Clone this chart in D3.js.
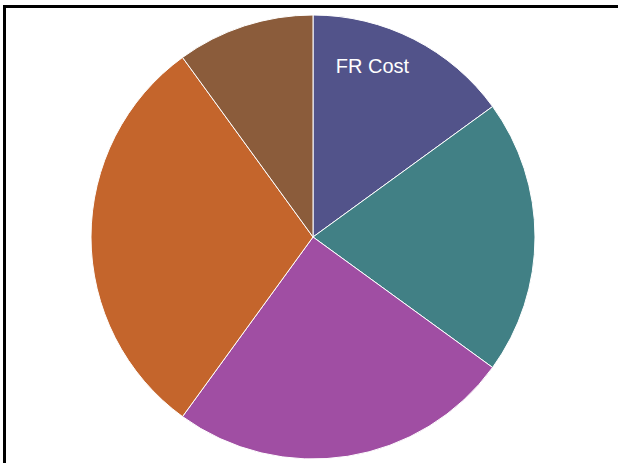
<!DOCTYPE html>
<html>
<head>
<meta charset="utf-8">
<script src="https://cdn.jsdelivr.net/npm/d3@7"></script>
<style>
  body { margin: 0; background: #fff; }
  svg { display: block; }
</style>
</head>
<body>
<script>
const categories = ["FR Cost", "B", "C", "D", "E"];
const values = [15, 20, 25, 30, 10];
const labels = ["FR Cost", "", "", "", ""];
const colors = ["#52538a", "#418085", "#a04ea3", "#c4652c", "#8b5c3b"];

// ================== LAYOUT ===========================
const width = 618;
const height = 463;
const cx = 313, cy = 237;
const radius = 222;

const svg = d3.select("body")
              .append("svg")
              .attr("width", width)
              .attr("height", height);

// frame, only top and left edges show
svg.append("rect")
   .attr("x", 4.5)
   .attr("y", 6.5)
   .attr("width", 700)
   .attr("height", 600)
   .attr("fill", "none")
   .attr("stroke", "#000")
   .attr("stroke-width", 3);

const group = svg.append("g")
                 .attr("transform", `translate(${cx}, ${cy})`);

const color = d3.scaleOrdinal().domain(categories).range(colors);

const pie = d3.pie().sort(null).value(d => d);
const arcs = pie(values);

const arc = d3.arc().innerRadius(0).outerRadius(radius);
const labelArc = d3.arc().innerRadius(186).outerRadius(186);

// ============ slices =================================
group.selectAll("path")
     .data(arcs).enter()
     .append("path")
     .attr("d", arc)
     .attr("fill", (d, i) => color(categories[i]))
     .attr("stroke", "#fff")
     .attr("stroke-width", 1);

// ============ labels =================================
group.selectAll("text")
     .data(arcs).enter()
     .append("text")
     .attr("transform", d => `translate(${labelArc.centroid(d)})`)
     .attr("dx", -25)
     .attr("dy", 2)
     .attr("text-anchor", "middle")
     .attr("fill", "#fff")
     .style("font-family", "Liberation Sans, Arial, sans-serif")
     .style("font-size", "20px")
     .text((d, i) => labels[i]);
</script>
</body>
</html>
